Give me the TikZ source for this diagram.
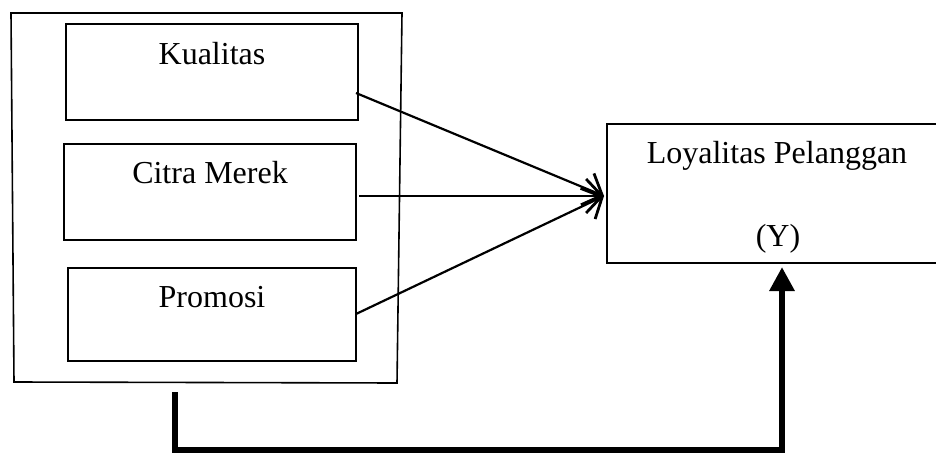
\documentclass[tikz,border=0pt]{standalone}
\usepackage{fontspec}
\setmainfont{Liberation Serif}
\usetikzlibrary{arrows.meta}
\begin{document}
\begin{tikzpicture}[x=1pt,y=-1pt,
  box/.style={draw=black,line width=1.6pt,rectangle,inner sep=0pt},
  lbl/.style={anchor=base,inner sep=0pt,font=\fontsize{32}{38}\selectfont},
  conn/.style={line width=2.2pt,-{Straight Barb[length=16pt,width=34pt,line width=2.8pt]}},
  thick conn/.style={line width=6.5pt,miter limit=10,-{Triangle[length=24pt,width=24pt]}}]
\clip (0,0) rectangle (936,454);
\fill[white] (0,0) rectangle (936,454);
% outer frame
\draw[line width=1.6pt] (11,13) -- (402,13) -- (397,383) -- (14,382) -- cycle;
\coordinate (outer) at (175,392);
% inner boxes
\node[box,minimum width=292pt,minimum height=96pt] (k) at (212,72) {};
\node[box,minimum width=292pt,minimum height=96pt] (c) at (210,192) {};
\node[box,minimum width=288pt,minimum height=93pt] (p) at (212,314.5) {};
\node[lbl] (kt) at (212,65) {Kualitas};
\node[lbl] (ct) at (210,184) {Citra Merek};
\node[lbl] (pt) at (212,307) {Promosi};
% target
\node[minimum width=340pt,minimum height=139pt,inner sep=0pt] (y) at (777,193.5) {};
\draw[line width=1.6pt] (y.north east) -- (y.north west) -- (y.south west) -- (y.south east);
\node[lbl] (yt1) at (777,164) {Loyalitas Pelanggan};
\node[lbl] (yt2) at (778,247) {(Y)};
% connectors
\coordinate (tip) at (604,196);
\coordinate (ks) at (356,93);
\coordinate (cs) at (359,196);
\coordinate (ps) at (356,314);
\draw[conn] (ks) -- (tip);
\draw[conn] (cs) -- (tip);
\draw[conn] (ps) -- (tip);
\coordinate (yin) at (782,267);
\draw[thick conn] (outer) -- (175,450) -- (782,450) -- (yin);
\end{tikzpicture}
\end{document}
